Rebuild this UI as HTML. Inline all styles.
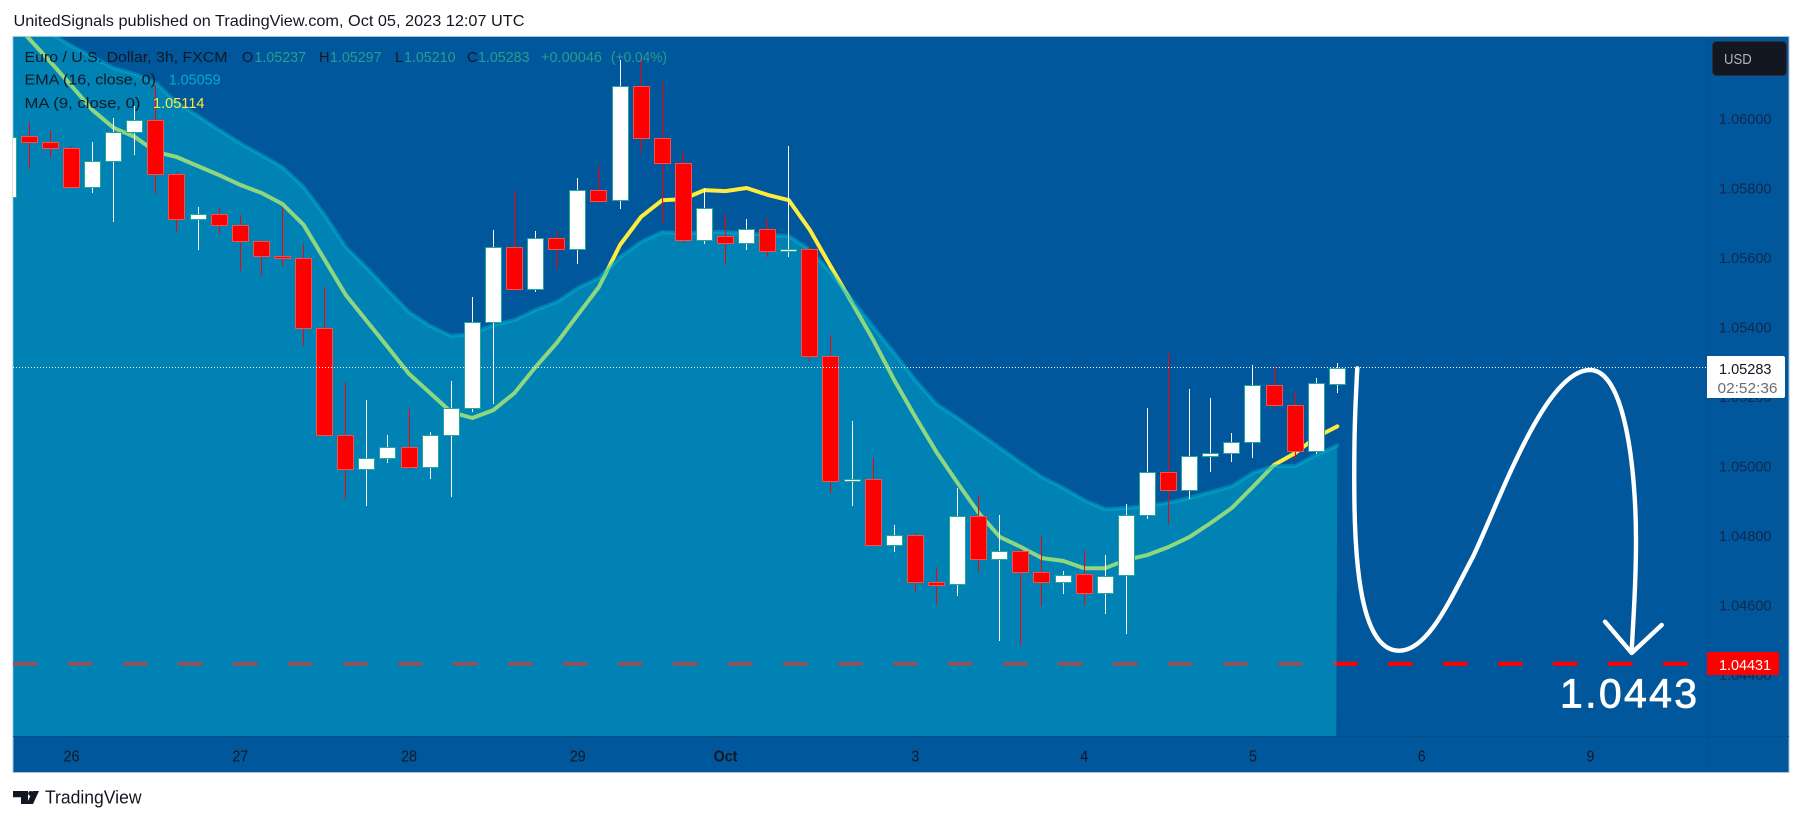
<!DOCTYPE html>
<html lang="en">
<head>
<meta charset="utf-8">
<title>EUR/USD 3h chart</title>
<style>
  html, body { margin: 0; padding: 0; background: #fff; width: 1803px; height: 821px; overflow: hidden; }
  svg { display: block; font-family: "Liberation Sans", Arial, sans-serif; }
  text { white-space: pre; }
</style>
</head>
<body>
<svg id="chart" xmlns="http://www.w3.org/2000/svg" width="1803" height="821" viewBox="0 0 1803 821">
  <defs>
    <clipPath id="pane-clip"><rect x="13" y="37" width="1694" height="699"/></clipPath>
  </defs>

  <text x="13.5" y="26" font-size="16" fill="#131722" textLength="511" lengthAdjust="spacingAndGlyphs">UnitedSignals published on TradingView.com, Oct 05, 2023 12:07 UTC</text>

  <rect x="13" y="36.5" width="1776" height="736" fill="#01579b" stroke="#a9c4dd" stroke-width="1"/>
  <line x1="1707.5" y1="37" x2="1707.5" y2="772" stroke="#01508f" stroke-width="1"/>
  <line x1="13" y1="736.5" x2="1789" y2="736.5" stroke="#01508f" stroke-width="1"/>

  <g id="under-layer" clip-path="url(#pane-clip)"></g>
  <g id="area-layer" clip-path="url(#pane-clip)"></g>
  <g id="candle-layer" clip-path="url(#pane-clip)"></g>
  <g id="last-layer"></g>

  <g fill="none" stroke="#ffffff" stroke-linecap="round" stroke-linejoin="round">
    <path stroke-width="4.4" d="M1357.3 368.3 C1355 410 1354 440 1354.3 490 C1354.6 560 1360 651 1399.3 650.7 C1428 650.5 1450 600 1473 556.7 C1500 500 1545 370 1590 370 C1625 370 1636 470 1636 540 C1636 590 1633 620 1631.7 651.7"/>
    <path stroke-width="4.4" d="M1605 621.7 L1631.7 653 L1661.7 625"/>
  </g>
  <text x="1560" y="707.5" font-size="41" fill="#ffffff" stroke="#ffffff" stroke-width="0.8" textLength="137" lengthAdjust="spacing">1.0443</text>

  <g font-size="14.5">
    <g>
      <text x="24.5" y="62" fill="#131722" textLength="203" lengthAdjust="spacingAndGlyphs">Euro / U.S. Dollar, 3h, FXCM</text>
      <text x="242" y="62" fill="#131722">O</text>
      <text x="254.5" y="62" fill="#2b9c90" textLength="51.5" lengthAdjust="spacingAndGlyphs">1.05237</text>
      <text x="319" y="62" fill="#131722">H</text>
      <text x="330" y="62" fill="#2b9c90" textLength="51.5" lengthAdjust="spacingAndGlyphs">1.05297</text>
      <text x="395" y="62" fill="#131722">L</text>
      <text x="404" y="62" fill="#2b9c90" textLength="51.5" lengthAdjust="spacingAndGlyphs">1.05210</text>
      <text x="467" y="62" fill="#131722">C</text>
      <text x="478" y="62" fill="#2b9c90" textLength="51.5" lengthAdjust="spacingAndGlyphs">1.05283</text>
      <text x="541" y="62" fill="#2b9c90" textLength="61" lengthAdjust="spacingAndGlyphs">+0.00046</text>
      <text x="611" y="62" fill="#2b9c90" textLength="56" lengthAdjust="spacingAndGlyphs">(+0.04%)</text>
    </g>
    <g>
      <text x="24.5" y="84.5" fill="#131722" textLength="131.5" lengthAdjust="spacingAndGlyphs">EMA (16, close, 0)</text>
      <text x="168.7" y="84.5" fill="#00acc8" textLength="52" lengthAdjust="spacingAndGlyphs">1.05059</text>
    </g>
    <g>
      <text x="24.5" y="108" fill="#131722" textLength="116" lengthAdjust="spacingAndGlyphs">MA (9, close, 0)</text>
      <text x="153" y="108" fill="#ffeb3b" textLength="51.5" lengthAdjust="spacingAndGlyphs">1.05114</text>
    </g>
  </g>

  <g id="price-axis"></g>
  <g id="time-axis"></g>

  <g>
    <rect x="1712.5" y="41.5" width="74" height="34" rx="4" fill="#131722" stroke="#2a2e39"/>
    <text x="1724" y="64" font-size="15" fill="#b2b5be" textLength="27.7" lengthAdjust="spacingAndGlyphs">USD</text>
  </g>

  <g id="tags"></g>

  <g>
    <path fill="#131722" d="M13 791 H28 V804 H21 V797.3 H13 Z M39 791 L33 804 H26.6 L32.6 791 Z"/>
    <circle cx="30.6" cy="793.4" r="2.4" fill="#131722"/>
    <text x="45" y="803.5" font-size="18" fill="#131722" textLength="96.5" lengthAdjust="spacingAndGlyphs">TradingView</text>
  </g>
</svg>

<script>
const opens = [1.05773,1.05950,1.05932,1.05914,1.05802,1.05877,1.05960,1.05995,1.05839,1.05710,1.05724,1.05693,1.05647,1.05603,1.05598,1.05396,1.05088,1.04991,1.05022,1.05054,1.04996,1.05088,1.05166,1.05414,1.05629,1.05508,1.05655,1.05624,1.05793,1.05765,1.06093,1.05943,1.05871,1.05650,1.05662,1.05641,1.05681,1.05618,1.05624,1.05316,1.04956,1.04962,1.04772,1.04801,1.04665,1.04660,1.04855,1.04733,1.04756,1.04694,1.04665,1.04688,1.04634,1.04685,1.04860,1.04982,1.04930,1.05028,1.05037,1.05068,1.05232,1.05175,1.05042,1.05237];
const highs = [1.05960,1.05991,1.05967,1.05921,1.05932,1.06001,1.06036,1.06096,1.05846,1.05744,1.05744,1.05722,1.05650,1.05744,1.05639,1.05514,1.05243,1.05190,1.05089,1.05164,1.05098,1.05245,1.05486,1.05679,1.05791,1.05676,1.05675,1.05829,1.05863,1.06168,1.06173,1.06105,1.05904,1.05799,1.05725,1.05711,1.05714,1.05921,1.05629,1.05376,1.05129,1.05022,1.04830,1.04807,1.04708,1.04937,1.04916,1.04859,1.04760,1.04799,1.04698,1.04758,1.04744,1.04891,1.05167,1.05324,1.05222,1.05196,1.05094,1.05291,1.05288,1.05213,1.05253,1.05297];
const lows = [1.05760,1.05855,1.05887,1.05802,1.05786,1.05703,1.05895,1.05783,1.05674,1.05622,1.05668,1.05561,1.05550,1.05576,1.05345,1.05088,1.04906,1.04885,1.05009,1.04988,1.04963,1.04911,1.05156,1.05178,1.05504,1.05502,1.05567,1.05582,1.05756,1.05740,1.05902,1.05699,1.05641,1.05639,1.05578,1.05622,1.05601,1.05601,1.05302,1.04921,1.04885,1.04772,1.04753,1.04640,1.04600,1.04626,1.04696,1.04497,1.04485,1.04598,1.04632,1.04600,1.04575,1.04517,1.04848,1.04834,1.04905,1.04984,1.05012,1.05024,1.05168,1.05019,1.05035,1.05210];
const closes = [1.05948,1.05932,1.05914,1.05802,1.05877,1.05960,1.05995,1.05839,1.05710,1.05724,1.05693,1.05647,1.05603,1.05598,1.05396,1.05088,1.04991,1.05022,1.05054,1.04996,1.05088,1.05166,1.05414,1.05629,1.05508,1.05655,1.05624,1.05793,1.05763,1.06093,1.05943,1.05871,1.05650,1.05742,1.05641,1.05681,1.05618,1.05624,1.05316,1.04956,1.04962,1.04772,1.04801,1.04665,1.04658,1.04855,1.04733,1.04756,1.04694,1.04665,1.04687,1.04634,1.04684,1.04860,1.04982,1.04930,1.05028,1.05037,1.05068,1.05232,1.05175,1.05042,1.05238,1.05283];
const emaValues = [1.06318,1.06289,1.06246,1.06209,1.06177,1.06145,1.06128,1.06102,1.06045,1.06007,1.05967,1.05929,1.05895,1.05860,1.05803,1.05722,1.05630,1.05570,1.05506,1.05443,1.05403,1.05374,1.05380,1.05406,1.05420,1.05449,1.05472,1.05512,1.05541,1.05601,1.05645,1.05673,1.05670,1.05673,1.05673,1.05670,1.05665,1.05662,1.05622,1.05555,1.05478,1.05400,1.05325,1.05247,1.05178,1.05138,1.05095,1.05052,1.05009,1.04968,1.04937,1.04902,1.04876,1.04879,1.04885,1.04894,1.04908,1.04925,1.04942,1.04980,1.05000,1.05000,1.05032,1.05059];
const maValues = [1.06298,1.06229,1.06163,1.06094,1.06024,1.05973,1.05947,1.05904,1.05889,1.05863,1.05837,1.05809,1.05786,1.05754,1.05694,1.05593,1.05492,1.05417,1.05342,1.05265,1.05210,1.05155,1.05138,1.05161,1.05210,1.05285,1.05354,1.05435,1.05515,1.05636,1.05717,1.05765,1.05768,1.05794,1.05791,1.05800,1.05780,1.05765,1.05679,1.05573,1.05469,1.05363,1.05247,1.05141,1.05040,1.04951,1.04865,1.04796,1.04767,1.04735,1.04727,1.04706,1.04706,1.04730,1.04744,1.04767,1.04796,1.04836,1.04879,1.04940,1.05003,1.05037,1.05083,1.05114];
const priceTicks = ["1.06000","1.05800","1.05600","1.05400","1.05200","1.05000","1.04800","1.04600","1.04400"];
const timeLabels = ["26","27","28","29","Oct","3","4","5","6","9"];
const timeBars = [3,11,19,27,34,43,51,59,67,75];
const targetPrice = [1.04431];
const countdown = ["02:52:36"];

const NS = "http://www.w3.org/2000/svg";
const PANE_LEFT = 13, PANE_RIGHT = 1707, PANE_BOTTOM = 736;

function xAt(bar) { return 8.2 + bar * 21.097; }
function yAt(price) { return 118.5 + (1.06 - price) * 34750; }
function make(tag, attrs, parent) {
  const el = document.createElementNS(NS, tag);
  for (const k in attrs) el.setAttribute(k, attrs[k]);
  parent.appendChild(el);
  return el;
}
function linePath(values) {
  return values.map((v, i) => (i ? "L" : "M") + xAt(i).toFixed(1) + " " + yAt(v).toFixed(1)).join(" ");
}

const under = document.getElementById("under-layer");
const areaLayer = document.getElementById("area-layer");
const candleLayer = document.getElementById("candle-layer");
const lastLayer = document.getElementById("last-layer");
const priceAxis = document.getElementById("price-axis");
const timeAxis = document.getElementById("time-axis");
const tags = document.getElementById("tags");

/* target level, dimmed by the area drawn over it */
const targetY = yAt(targetPrice[0]);
const targetLine = make("line", {x1: PANE_LEFT, x2: PANE_RIGHT, y1: targetY, y2: targetY, stroke: "#ff0000", "stroke-width": 4, "stroke-dasharray": "24.5 30.5"}, under);



/* MA line, also under the translucent area */
const maLine = make("path", {d: linePath(maValues), fill: "none", stroke: "#ffeb3b", "stroke-width": 4, "stroke-linejoin": "round", "stroke-linecap": "round"}, under);



/* EMA area + line */
const emaD = linePath(emaValues);
const areaRight = xAt(emaValues.length - 1) - 1;
const areaD = emaD + " L" + areaRight.toFixed(1) + " " + PANE_BOTTOM + " L" + xAt(0).toFixed(1) + " " + PANE_BOTTOM + " Z";
const area = make("path", {d: areaD, fill: "#00bcd4", "fill-opacity": 0.44, stroke: "none"}, areaLayer);


const emaLine = make("path", {d: emaD, fill: "none", stroke: "#00bcd4", "stroke-opacity": 0.42, "stroke-width": 4, "stroke-linejoin": "round", "stroke-linecap": "round"}, areaLayer);



/* candles */
opens.forEach((o, i) => {
  const c = closes[i];
  const up = c >= o;
  const cx = Math.floor(xAt(i)) + 0.5;
  const g = make("g", {}, candleLayer);
  
  
  const wick = make("line", {x1: cx, x2: cx, y1: Math.round(yAt(highs[i])), y2: Math.round(yAt(lows[i])), stroke: up ? "#ffffff" : "#ff0000", "stroke-width": 1}, g);
  
  
  const top = Math.round(yAt(Math.max(o, c))) + 0.5;
  const bottom = Math.round(yAt(Math.min(o, c))) + 0.5;
  const body = make("rect", {x: cx - 8, y: top, width: 16, height: Math.max(bottom - top, 1), fill: up ? "#ffffff" : "#ff0000", stroke: up ? "#26a69a" : "#ef5350", "stroke-width": 1}, g);
  
  
});

/* last price dotted line */
const lastClose = closes[closes.length - 1];
const lastY = Math.round(yAt(lastClose)) - 0.5;
const lastLine = make("line", {x1: PANE_LEFT, x2: PANE_RIGHT, y1: lastY, y2: lastY, stroke: "#ffffff", "stroke-width": 1, "stroke-dasharray": "1 2"}, lastLayer);



/* price axis */
priceTicks.forEach(label => {
  const t = make("text", {x: 1719, y: yAt(parseFloat(label)) + 5.4, "font-size": 15, fill: "#10294d", textLength: 52.5, lengthAdjust: "spacingAndGlyphs"}, priceAxis);
  
  
  t.textContent = label;
});

/* time axis */
timeLabels.forEach((label, i) => {
  const bold = label === "Oct";
  const t = make("text", {x: xAt(timeBars[i]), y: 761.5, "text-anchor": "middle", "font-size": 15.5, fill: "#131722", "font-weight": bold ? "bold" : "normal"}, timeAxis);
  
  
  t.textContent = label;
  t.setAttribute('textLength', (t.getComputedTextLength() * 0.92).toFixed(1));
  t.setAttribute('lengthAdjust', 'spacingAndGlyphs');
});

/* price tags */
const lastTag = make("path", {d: "M1707 356 H1783 a2 2 0 0 1 2 2 V396 a2 2 0 0 1 -2 2 H1707 Z", fill: "#ffffff"}, tags);


const lastText = make("text", {x: 1719, y: 374, "font-size": 15, fill: "#131722", textLength: 52.5, lengthAdjust: "spacingAndGlyphs"}, tags);


lastText.textContent = lastClose.toFixed(5);
const countText = make("text", {x: 1717.5, y: 393, "font-size": 15, fill: "#6a6d78", textLength: 60, lengthAdjust: "spacingAndGlyphs"}, tags);


countText.textContent = countdown[0];

const targetTag = make("path", {d: "M1707 652 H1777 a2 2 0 0 1 2 2 V673 a2 2 0 0 1 -2 2 H1707 Z", fill: "#ff0000"}, tags);


const targetText = make("text", {x: 1719, y: 669.8, "font-size": 15, fill: "#ffffff", textLength: 52, lengthAdjust: "spacingAndGlyphs"}, tags);


targetText.textContent = targetPrice[0].toFixed(5);
</script>
</body>
</html>
